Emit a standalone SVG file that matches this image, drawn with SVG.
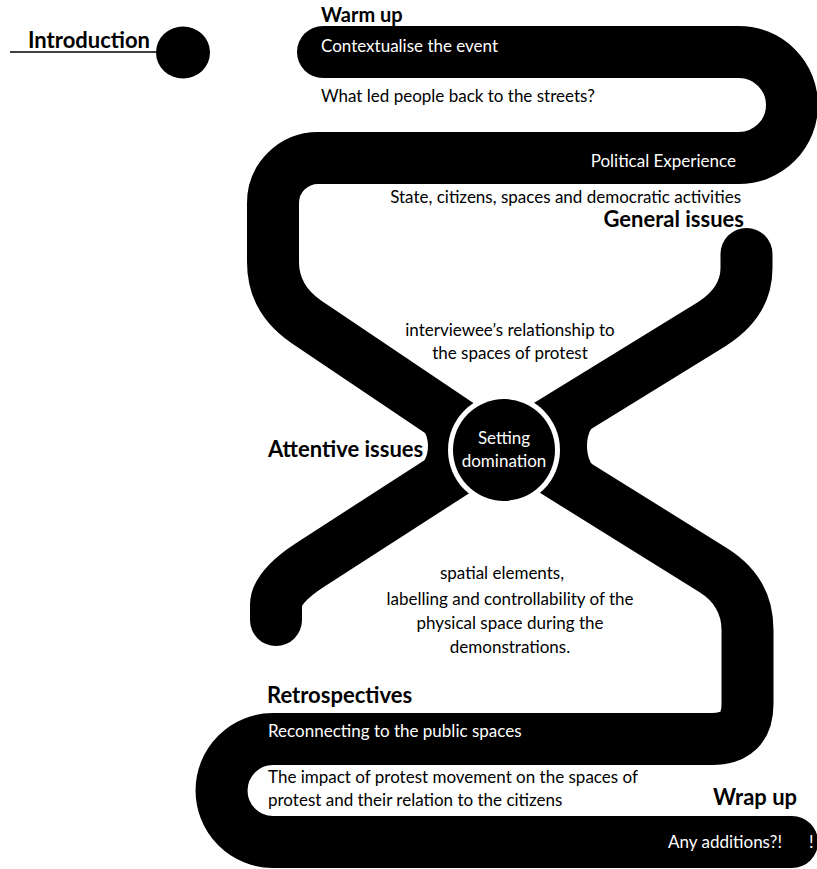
<svg xmlns="http://www.w3.org/2000/svg" width="817" height="869" viewBox="0 0 817 869">
<style>
.band{fill:none;stroke:#000;stroke-width:52;stroke-linecap:round;stroke-linejoin:round}
.blob{fill:#000}
text{font-family:Lato,"Liberation Sans",sans-serif;font-size:17px;fill:#000}
.w{fill:#fff}
.b{font-weight:bold;font-size:22px}
.m{text-anchor:middle}
.e{text-anchor:end}
</style>
<rect width="817" height="869" fill="#fff"/>
<g id="connectors">
<path class="band" d="M323 52 L739 52 A53 53 0 0 1 739 158 L318 158 A45 45 0 0 0 273 203 L273 262 Q273 299 306 321.6 L480 438.7"/>
<path class="band" d="M480 455.3 L310 565 Q276 587 276 605 L276 620"/>
<path class="blob" d="M414 421 Q428 430 428 446 Q428 462 414 471 L470 478 L470 420 Z"/>
<path class="band" d="M746.5 254 L746.5 268 Q746.5 301.5 713 323.3 L530 436"/>
<path class="band" d="M530 456 L713 570 Q747.5 591.5 747.5 630 L747.5 704 Q747.5 739 712 739 L273 739 A51.5 51.5 0 0 0 273 842 L792 842"/>
<path class="blob" d="M600 420 Q587 428 587 446 Q587 464 600 472 L545 472 L545 420 Z"/>
</g>
<g id="intro">
<line x1="10" y1="52" x2="157" y2="52" stroke="#000" stroke-width="1.5"/>
<text class="b" x="28" y="48">Introduction</text>
<ellipse cx="183" cy="52.5" rx="27" ry="26" fill="#000"/>
</g>
<g id="warm-up">
<text class="b" x="321" y="22" style="font-size:20px">Warm up</text>
<text class="w" x="321" y="52">Contextualise the event</text>
<text x="321" y="102">What led people back to the streets?</text>
</g>
<g id="general-issues">
<text class="w e" x="736" y="167">Political Experience</text>
<text class="e" x="741" y="203">State, citizens, spaces and democratic activities</text>
<text class="b e" x="744" y="227">General issues</text>
<text class="m" x="510" y="336">interviewee’s relationship to</text>
<text class="m" x="510" y="359">the spaces of protest</text>
</g>
<g id="setting-domination">
<circle cx="504" cy="450" r="56" fill="#fff"/>
<circle cx="504" cy="450" r="51" fill="#000"/>
<text class="w m" x="504" y="444">Setting</text>
<text class="w m" x="504" y="467">domination</text>
</g>
<g id="attentive-issues">
<text class="b" x="268" y="457">Attentive issues</text>
<text class="m" x="502" y="579">spatial elements,</text>
<text class="m" x="510" y="605">labelling and controllability of the</text>
<text class="m" x="510" y="629">physical space during the</text>
<text class="m" x="510" y="653">demonstrations.</text>
</g>
<g id="retrospectives">
<text class="b" x="267" y="703">Retrospectives</text>
<text class="w" x="268" y="737">Reconnecting to the public spaces</text>
<text x="268" y="783">The impact of protest movement on the spaces of</text>
<text x="268" y="806">protest and their relation to the citizens</text>
</g>
<g id="wrap-up">
<text class="b" x="713" y="805">Wrap up</text>
<text class="w" x="668" y="848">Any additions?! <tspan x="809">!</tspan></text>
</g>
</svg>
